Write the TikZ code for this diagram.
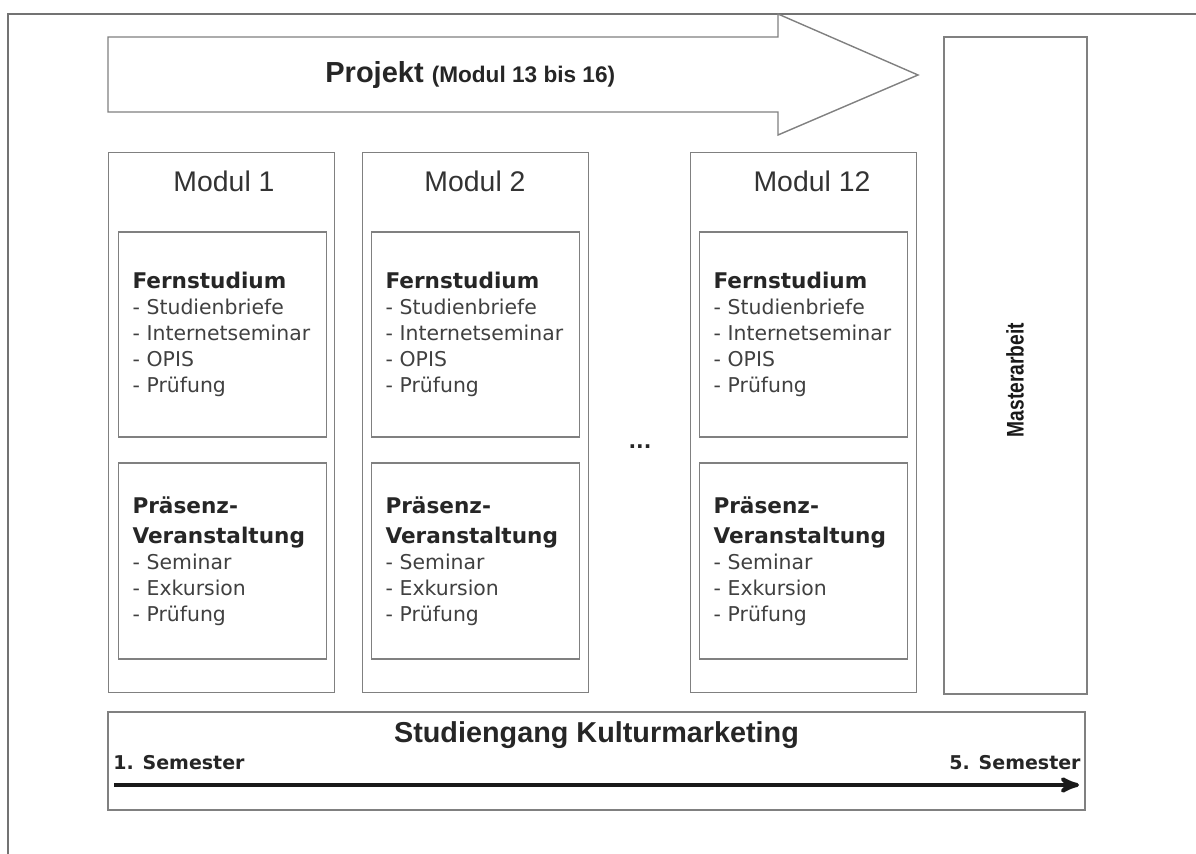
\documentclass[tikz,border=0pt]{standalone}
\usepackage{fontspec}
\setmainfont{Liberation Sans}
\newfontfamily\boxfont{DejaVu Sans}
\newfontfamily\masterfont[FakeStretch=0.8]{Liberation Sans}
\usepackage{tikz}
\usetikzlibrary{arrows}

\newcommand{\kmhead}[1]{{\fontsize{10.8}{13}\selectfont\bfseries\color{black!85}#1}}

\begin{document}
\begin{tikzpicture}[x=0.5pt,y=-0.5pt,
    frame/.style={draw=black!55, line width=0.8pt},
    box/.style={draw=black!50, line width=0.7pt},
    modul/.style={box, minimum width=113pt, minimum height=270pt},
    part/.style={box, text width=90pt, inner xsep=7pt, inner ysep=0pt, align=left,
      text=black!75, font=\boxfont\fontsize{10.2}{13}\selectfont},
    title/.style={anchor=base, text=black!80, font=\fontsize{14.2}{17}\selectfont}]
      \useasboundingbox (0,0) rectangle (1196,854);

        % Outer frame
        \draw[frame] (8,854) -- (8,14) -- (1196,14);

        % Project arrow
        \draw[box, fill=white] (108,37) -- (778,37) -- (778,14) -- (918,75)
          -- (778,135) -- (778,112) -- (108,112) -- cycle;
        \node[anchor=base west, inner sep=0pt, text=black!85] (projekt) at (325,83)
          {\fontsize{14.5}{17}\selectfont\bfseries Projekt
           {\fontsize{11.3}{13}\selectfont (Modul 13 bis 16)}};

        % Modules
        \node[modul] (m1) at (221.5,422.5) {};
        \node[modul] (m2) at (475.5,422.5) {};
        \node[modul] (m12) at (803.5,422.5) {};
        \node[title] (t1) at (224,192) {Modul 1};
        \node[title] (t2) at (475,192) {Modul 2};
        \node[title] (t12) at (812,192) {Modul 12};

        \node[part, minimum height=102.5pt] (fern1) at (222.5,334.5)
          {\kmhead{Fernstudium}\\- Studienbriefe\\- Internetseminar\\- OPIS\\- Prüfung};
        \node[part, minimum height=102.5pt] (fern2) at (475.5,334.5)
          {\kmhead{Fernstudium}\\- Studienbriefe\\- Internetseminar\\- OPIS\\- Prüfung};
        \node[part, minimum height=102.5pt] (fern12) at (803.5,334.5)
          {\kmhead{Fernstudium}\\- Studienbriefe\\- Internetseminar\\- OPIS\\- Prüfung};

        \node[part, minimum height=98pt] (praes1) at (222.5,561)
          {\kmhead{Präsenz-}\\[2pt]\kmhead{Veranstaltung}\\- Seminar\\- Exkursion\\- Prüfung};
        \node[part, minimum height=98pt] (praes2) at (475.5,561)
          {\kmhead{Präsenz-}\\[2pt]\kmhead{Veranstaltung}\\- Seminar\\- Exkursion\\- Prüfung};
        \node[part, minimum height=98pt] (praes12) at (803.5,561)
          {\kmhead{Präsenz-}\\[2pt]\kmhead{Veranstaltung}\\- Seminar\\- Exkursion\\- Prüfung};

        \node[text=black!85, font=\boxfont\bfseries\fontsize{10}{12}\selectfont] (dots) at (640,447) {...};

        % Master thesis
        \node[box, minimum width=71.5pt, minimum height=328.5pt] (master) at (1015.5,365.5) {};
        \node[rotate=90, text=black!90, font=\masterfont\bfseries\fontsize{12}{14}\selectfont]
          (mastertext) at (1015,380) {Masterarbeit};

        % Study programme bar
        \node[box, minimum width=488.5pt, minimum height=49pt] (bar) at (596.5,761) {};
        \node[anchor=base, inner sep=0pt, text=black!85, font=\bfseries\fontsize{14.4}{17}\selectfont]
          (studiengang) at (596.5,743) {Studiengang Kulturmarketing};
        \node[anchor=base west, inner sep=0pt, text=black!85, font=\boxfont\bfseries\fontsize{9.5}{11}\selectfont]
          (sem1text) at (113,770) {1. Semester};
        \node[anchor=base east, inner sep=0pt, text=black!85, font=\boxfont\bfseries\fontsize{9.5}{11}\selectfont]
          (sem5text) at (1081,770) {5. Semester};
        \coordinate (sem1) at (114,785);
        \coordinate (sem5) at (1079,785);

        \draw [->, >=stealth', line width=2pt, black!90] (sem1) -- (sem5);

    \end{tikzpicture}
\end{document}
